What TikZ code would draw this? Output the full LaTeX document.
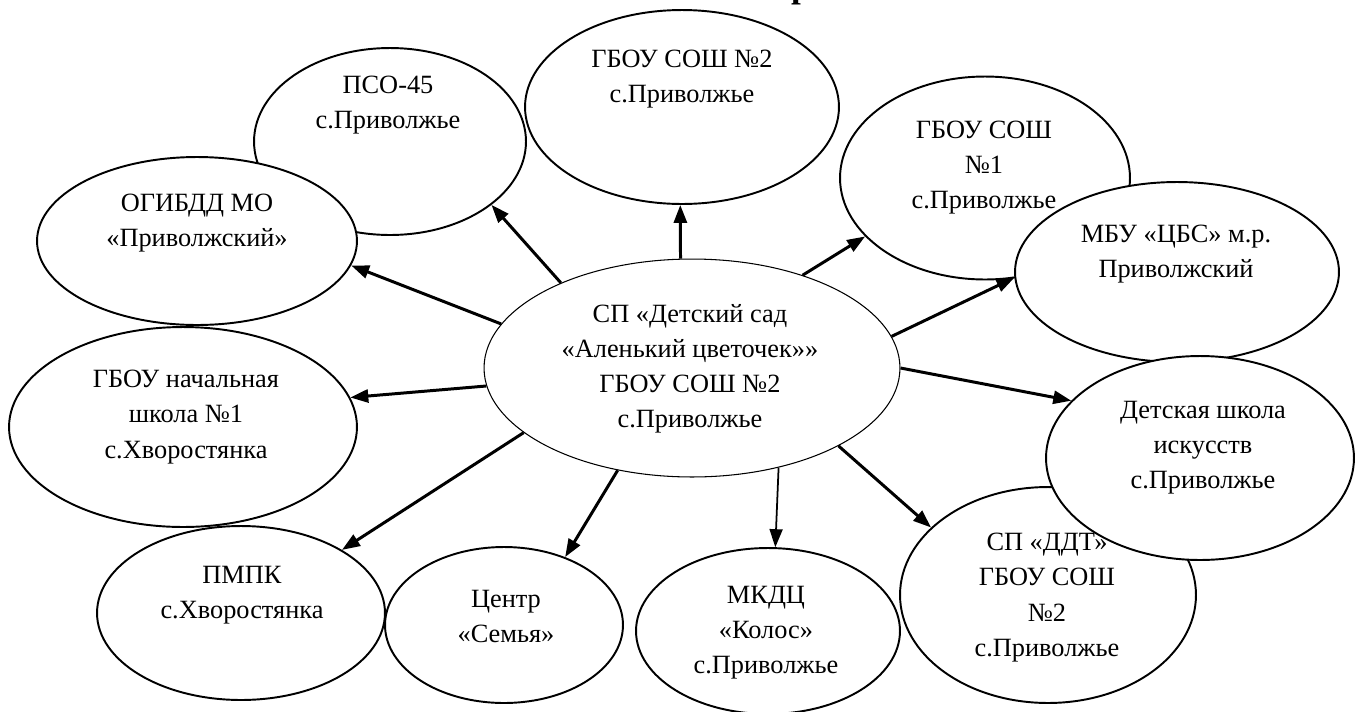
\documentclass[tikz,border=0pt]{standalone}
\usepackage{fontspec}
\setmainfont{Liberation Serif}
\usetikzlibrary{shapes.geometric,arrows.meta}
\tikzset{
  org/.style={ellipse,draw,fill=white,line width=1.1pt,inner sep=0pt},
  lbl/.style={align=center,inner sep=0pt,font=\fontsize{15}{20}\selectfont},
  lnk/.style={line width=1.7pt,-{Triangle[length=0.36cm,width=0.26cm]}}
}
\begin{document}
\begin{tikzpicture}[x=0.02cm,y=-0.02cm]
\useasboundingbox (0,0) rectangle (1357,711);

% title (cut off at the top)
\node[font=\bfseries\fontsize{20}{24}\selectfont,anchor=south,inner sep=0pt] (title) at (801,5) {р};

% partners
\node[org,minimum width=6.28cm,minimum height=3.88cm] (sch2) at (682,107) {};
\node[org,minimum width=5.44cm,minimum height=3.74cm] (pso) at (390,141.5) {};
\node[org,minimum width=6.4cm,minimum height=3.36cm] (gibdd) at (197,241) {};
\node[org,minimum width=5.8cm,minimum height=4.06cm] (sch1) at (985,178) {};
\node[org,minimum width=6.48cm,minimum height=3.6cm] (cbs) at (1177,272) {};
\node[org,minimum width=5.92cm,minimum height=4.32cm] (ddt) at (1048,595) {};
\node[org,minimum width=6.16cm,minimum height=4.08cm] (dshi) at (1200,458) {};
\node[org,minimum width=5.28cm,minimum height=3.32cm] (mkdc) at (768,631) {};
\node[org,minimum width=4.76cm,minimum height=3.12cm] (semya) at (504,625) {};
\node[org,minimum width=5.76cm,minimum height=3.48cm] (pmpk) at (241,613) {};
\node[org,minimum width=6.96cm,minimum height=4cm] (nach) at (183,427) {};

% kindergarten
\node[org,line width=0.6pt,minimum width=8.32cm,minimum height=4.36cm] (sad) at (692,368) {};

% links
\draw[lnk] (sad.96.5) -- (sch2.-91);
\draw[lnk] (sad.147.4) -- (pso.-32.4);
\draw[lnk] (sad.167.1) -- (gibdd.-9);
\draw[lnk] (sad.-175.3) -- (nach.10.5);
\draw[lnk] (sad.-159.3) -- (pmpk.32);
\draw[lnk] (sad.-126.4) -- (semya.48.6);
\draw[lnk,line width=1pt] (sad.-49.7) -- (mkdc.85.5);
\draw[lnk] (sad.-28.6) -- (ddt.150);
\draw[lnk] (sad.0) -- (dshi.156.9);
\draw[lnk] (sad.9) -- (cbs.182.9);
\draw[lnk] (sad.40.6) -- (sch1.-154.4);

% texts
\node[lbl] (t-sch2) at (682,79.5) {ГБОУ СОШ №2\\с.Приволжье};
\node[lbl] (t-pso) at (388,105) {ПСО-45\\с.Приволжье};
\node[lbl] (t-gibdd) at (197,223.5) {ОГИБДД МО\\«Приволжский»};
\node[lbl] (t-sch1) at (984,167.5) {ГБОУ СОШ\\№1\\с.Приволжье};
\node[lbl] (t-cbs) at (1176,254.5) {МБУ «ЦБС» м.р.\\Приволжский};
\node[lbl] (t-dshi) at (1203,447.5) {Детская школа\\искусств\\с.Приволжье};
\node[lbl] (t-ddt) at (1047,597.5) {СП «ДДТ»\\ГБОУ СОШ\\№2\\с.Приволжье};
\node[lbl] (t-mkdc) at (766,632.5) {МКДЦ\\«Колос»\\с.Приволжье};
\node[lbl] (t-semya) at (506,616.5) {Центр\\«Семья»};
\node[lbl] (t-pmpk) at (242,595) {ПМПК\\с.Хворостянка};
\node[lbl] (t-nach) at (186,417) {ГБОУ начальная\\школа №1\\с.Хворостянка};
\node[lbl] (t-sad) at (690,369) {СП «Детский сад\\«Аленький цветочек»»\\ГБОУ СОШ №2\\с.Приволжье};

\end{tikzpicture}
\end{document}
